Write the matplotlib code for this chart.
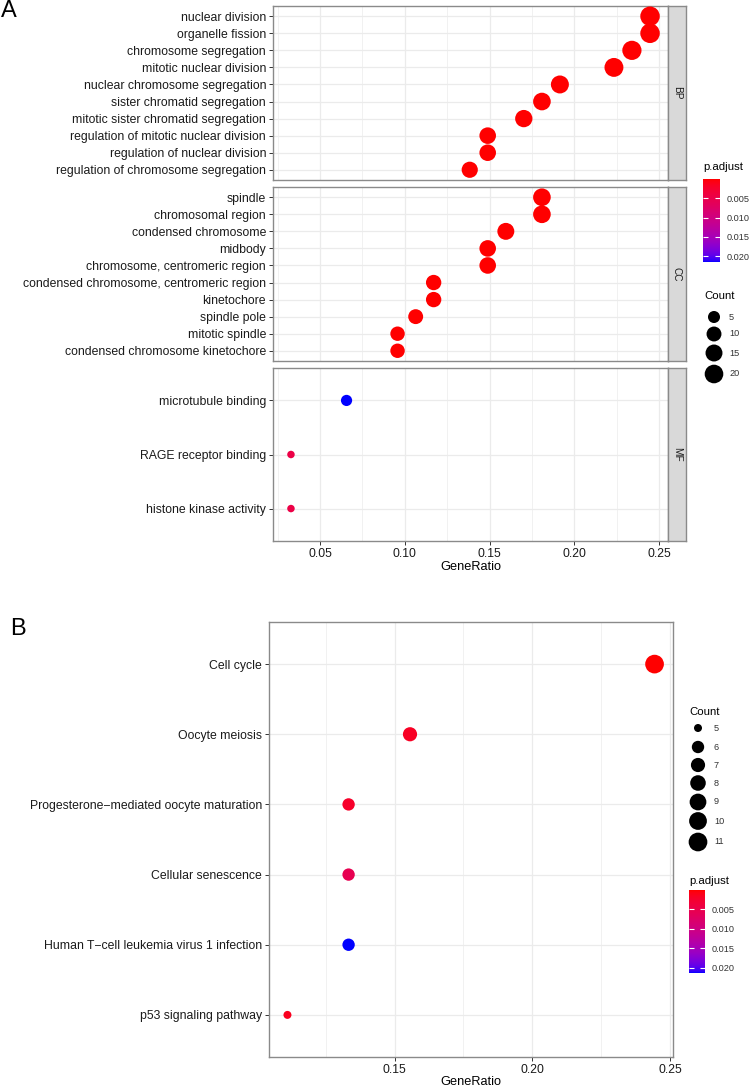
import numpy as np
import matplotlib
matplotlib.use("Agg")
import matplotlib.pyplot as plt
from matplotlib.colors import ListedColormap, Normalize
from matplotlib.cm import ScalarMappable

plt.rcParams['font.family'] = ['Liberation Sans', 'DejaVu Sans']

# ---------------- data ----------------
bp_terms = ["nuclear division", "organelle fission", "chromosome segregation",
            "mitotic nuclear division", "nuclear chromosome segregation",
            "sister chromatid segregation", "mitotic sister chromatid segregation",
            "regulation of mitotic nuclear division", "regulation of nuclear division",
            "regulation of chromosome segregation"]
bp_ratio = [0.2447, 0.2447, 0.2340, 0.2234, 0.1915, 0.1809, 0.1702, 0.1489, 0.1489, 0.1383]
bp_count = [23, 23, 22, 21, 18, 17, 16, 14, 14, 13]
bp_padj = [2e-9, 2e-9, 5e-9, 1e-8, 4e-8, 6e-8, 1e-7, 3e-6, 4e-6, 8e-6]

cc_terms = ["spindle", "chromosomal region", "condensed chromosome", "midbody",
            "chromosome, centromeric region", "condensed chromosome, centromeric region",
            "kinetochore", "spindle pole", "mitotic spindle",
            "condensed chromosome kinetochore"]
cc_ratio = [0.1809, 0.1809, 0.1596, 0.1489, 0.1489, 0.1170, 0.1170, 0.1064, 0.0957, 0.0957]
cc_count = [17, 17, 15, 14, 14, 11, 11, 10, 9, 9]
cc_padj = [1e-7, 2e-7, 5e-8, 3e-7, 2e-6, 1e-6, 5e-6, 2e-5, 5e-5, 3e-5]

mf_terms = ["microtubule binding", "RAGE receptor binding", "histone kinase activity"]
mf_ratio = [0.0656, 0.0328, 0.0328]
mf_count = [4, 2, 2]
mf_padj = [0.0215, 0.0045, 0.0045]

kegg_terms = ["Cell cycle", "Oocyte meiosis", "Progesterone\u2212mediated oocyte maturation",
              "Cellular senescence", "Human T\u2212cell leukemia virus 1 infection",
              "p53 signaling pathway"]
kegg_ratio = [0.2444, 0.1556, 0.1333, 0.1333, 0.1333, 0.1111]
kegg_count = [11, 7, 6, 6, 6, 5]
kegg_padj = [0.0001, 0.0018, 0.0022, 0.0055, 0.0213, 0.0015]

facet_labels = ["BP", "CC", "MF"]
a_xticks = [0.05, 0.10, 0.15, 0.20, 0.25]
b_xticks = [0.15, 0.20, 0.25]
a_count_breaks = [5, 10, 15, 20]
b_count_breaks = [5, 6, 7, 8, 9, 10, 11]
pad_breaks = [0.005, 0.010, 0.015, 0.020]

# ---------------- helpers ----------------
W, H = 750, 1086
fig = plt.figure(figsize=(W / 100, H / 100), dpi=100)


def ax_px(x0, y0, x1, y1, **kw):
    return fig.add_axes([x0 / W, 1 - y1 / H, (x1 - x0) / W, (y1 - y0) / H], **kw)


_M = np.array([[0.4124, 0.3576, 0.1805], [0.2126, 0.7152, 0.0722], [0.0193, 0.1192, 0.9505]])
_WP = np.array([0.95047, 1.0, 1.08883])


def srgb_to_lab(rgb):
    rgb = np.asarray(rgb, float)
    lin = np.where(rgb <= 0.04045, rgb / 12.92, ((rgb + 0.055) / 1.055) ** 2.4)
    t = (_M @ lin) / _WP
    f = np.where(t > (6 / 29) ** 3, np.cbrt(t), t / (3 * (6 / 29) ** 2) + 4 / 29)
    return np.array([116 * f[1] - 16, 500 * (f[0] - f[1]), 200 * (f[1] - f[2])])


def lab_to_srgb(lab):
    L, a, b = lab
    fy = (L + 16) / 116
    f = np.array([fy + a / 500, fy, fy - b / 200])
    t = np.where(f > 6 / 29, f ** 3, 3 * (6 / 29) ** 2 * (f - 4 / 29))
    lin = np.clip(np.linalg.inv(_M) @ (t * _WP), 0, 1)
    rgb = np.where(lin <= 0.0031308, lin * 12.92, 1.055 * lin ** (1 / 2.4) - 0.055)
    return np.clip(rgb, 0, 1)


lab_lo = srgb_to_lab([1, 0, 0])
lab_hi = srgb_to_lab([0, 0, 1])
cmap = ListedColormap([lab_to_srgb(lab_lo + (lab_hi - lab_lo) * t) for t in np.linspace(0, 1, 256)])


def diam(c, cmin, cmax, rmin=7.5, rmax=19.5):
    c = np.asarray(c, float)
    return rmin + (rmax - rmin) * np.sqrt((c - cmin) / (cmax - cmin))


def s_of(d_px):
    return (np.asarray(d_px) * 0.72) ** 2


GRID = "#EBEBEB"
SPINE = "#8A8A8A"
TXT = "#1A1A1A"
FS = 8.8
LEG_T = 8.2
LEG_L = 6.6


def style_axes(ax, xlim, xticks, ny, show_x):
    ax.set_xlim(*xlim)
    ax.set_ylim(ny - 1 + 0.6, -0.6)
    ax.set_xticks(xticks)
    step = xticks[1] - xticks[0]
    minors = [xticks[0] - step / 2] + [t + step / 2 for t in xticks]
    ax.set_xticks([m for m in minors if xlim[0] <= m <= xlim[1]], minor=True)
    ax.grid(True, which="major", color=GRID, lw=0.9, zorder=0)
    ax.grid(True, which="minor", axis="x", color=GRID, lw=0.5, zorder=0)
    ax.set_axisbelow(True)
    for sp in ax.spines.values():
        sp.set_color(SPINE)
        sp.set_linewidth(1.0)
    ax.tick_params(axis="both", which="major", length=3, width=0.7, color="#333333",
                   labelsize=FS, labelcolor=TXT, pad=2)
    ax.tick_params(axis="x", which="minor", length=0)
    if show_x:
        ax.set_xticklabels([f"{t:.2f}" for t in xticks])
    else:
        ax.tick_params(axis="x", which="major", length=0, labelbottom=False)


def draw_colorbar(x0, y0, x1, y1, norm, title_y):
    fig.text(x0 / W, 1 - title_y / H, "p.adjust", fontsize=LEG_T, ha="left", va="center")
    cax = ax_px(x0, y0, x1, y1)
    cb = fig.colorbar(ScalarMappable(norm=norm, cmap=cmap), cax=cax)
    cb.outline.set_visible(False)
    cax.invert_yaxis()
    cb.set_ticks(pad_breaks)
    cb.set_ticklabels([f"{t:.3f}" for t in pad_breaks])
    cax.tick_params(direction="in", length=3.5, width=0.8, color="white", labelsize=LEG_L,
                    labelcolor="#333333", pad=5, left=True, right=True)


def draw_count_legend(x_title, x_circ, x_lab, title_y, ys, breaks, cmin, cmax, rmin, rmax):
    fig.text(x_title / W, 1 - title_y / H, "Count", fontsize=LEG_T, ha="left", va="center")
    lax = ax_px(x_title - 10, ys[0] - 15, x_lab + 25, ys[-1] + 15)
    lax.set_xlim(x_title - 10, x_lab + 25)
    lax.set_ylim(ys[-1] + 15, ys[0] - 15)
    lax.axis("off")
    lax.scatter([x_circ] * len(breaks), ys, s=s_of(diam(breaks, cmin, cmax, rmin, rmax)),
                color="black", linewidths=0, clip_on=False)
    for yv, b in zip(ys, breaks):
        lax.text(x_lab, yv, str(b), fontsize=LEG_L, color="#333333", va="center", ha="left")


# ---------------- panel A ----------------
a_xlim = (0.0222, 0.2553)
all_a_p = bp_padj + cc_padj + mf_padj
a_norm = Normalize(vmin=min(all_a_p), vmax=max(all_a_p))
all_a_c = bp_count + cc_count + mf_count
a_cmin, a_cmax = min(all_a_c), max(all_a_c)
panels = [(bp_terms, bp_ratio, bp_count, bp_padj, 6, 180),
          (cc_terms, cc_ratio, cc_count, cc_padj, 187, 361),
          (mf_terms, mf_ratio, mf_count, mf_padj, 368, 541)]
for k, (terms, ratio, count, padj, y0, y1) in enumerate(panels):
    ax = ax_px(273, y0, 668, y1)
    yy = np.arange(len(terms))
    ax.scatter(ratio, yy, s=s_of(diam(count, a_cmin, a_cmax)), c=padj, cmap=cmap, norm=a_norm,
               linewidths=0, zorder=3)
    ax.set_yticks(yy)
    ax.set_yticklabels(terms)
    style_axes(ax, a_xlim, a_xticks, len(terms), k == 2)
    if k == 2:
        ax.set_xlabel("GeneRatio", fontsize=9.2, color="black", labelpad=1)
    sax = ax_px(668, y0, 686, y1)
    sax.set_xticks([]); sax.set_yticks([])
    sax.set_facecolor("#D9D9D9")
    for sp in sax.spines.values():
        sp.set_color(SPINE); sp.set_linewidth(1.0)
    sax.text(0.5, 0.5, facet_labels[k], rotation=-90, ha="center", va="center",
             fontsize=7.2, color="#1A1A1A", transform=sax.transAxes)

fig.text(1 / W, 1 - 11 / H, "A", fontsize=17, ha="left", va="center")

draw_colorbar(703, 179, 720, 262, a_norm, 167)
draw_count_legend(704, 714, 729, 296, [317, 334, 353, 374], a_count_breaks,
                  a_cmin, a_cmax, 7.5, 19.5)

# ---------------- panel B ----------------
b_xlim = (0.1044, 0.2511)
b_norm = Normalize(vmin=min(kegg_padj), vmax=max(kegg_padj))
b_cmin, b_cmax = min(kegg_count), max(kegg_count)
bx = ax_px(269, 622, 673, 1057)
yy = np.arange(len(kegg_terms))
bx.scatter(kegg_ratio, yy, s=s_of(diam(kegg_count, b_cmin, b_cmax, 8.0, 18.7)), c=kegg_padj,
           cmap=cmap, norm=b_norm, linewidths=0, zorder=3)
bx.set_yticks(yy)
bx.set_yticklabels(kegg_terms)
style_axes(bx, b_xlim, b_xticks, len(kegg_terms), True)
bx.set_xlabel("GeneRatio", fontsize=9.2, color="black", labelpad=0)

fig.text(10 / W, 1 - 629 / H, "B", fontsize=17, ha="left", va="center")

draw_count_legend(689, 698, 714, 712, [728, 747, 765, 783, 802, 821, 842], b_count_breaks,
                  b_cmin, b_cmax, 8.0, 18.7)
draw_colorbar(689, 890, 705, 973, b_norm, 881)

fig.savefig("out.png", dpi=100)
